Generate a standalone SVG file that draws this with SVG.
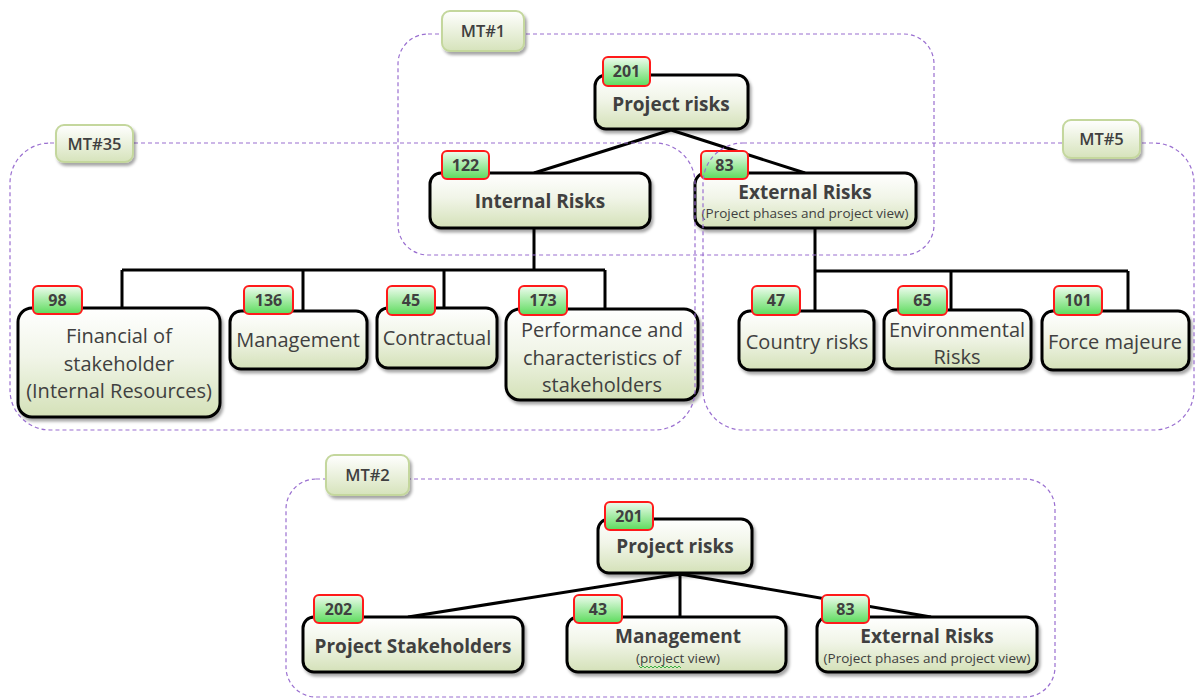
<svg xmlns="http://www.w3.org/2000/svg" width="1195" height="698" viewBox="0 0 1195 698">
<defs>
<linearGradient id="gNode" x1="0" y1="0" x2="0" y2="1">
<stop offset="0" stop-color="#ffffff"/>
<stop offset="0.45" stop-color="#f1f5e8"/>
<stop offset="1" stop-color="#d4e1b8"/>
</linearGradient>
<linearGradient id="gBadge" x1="0" y1="0" x2="0" y2="1">
<stop offset="0" stop-color="#f0fcf0"/>
<stop offset="1" stop-color="#5cdb5c"/>
</linearGradient>
<linearGradient id="gTag" x1="0" y1="0" x2="0" y2="1">
<stop offset="0" stop-color="#ffffff"/>
<stop offset="1" stop-color="#d6e3bb"/>
</linearGradient>
<filter id="sh" x="-10%" y="-10%" width="130%" height="140%">
<feDropShadow dx="2" dy="3" stdDeviation="1.8" flood-color="#000" flood-opacity="0.35"/>
</filter>
</defs>
<style>
.box{fill:url(#gNode);stroke:#000;stroke-width:3;filter:url(#sh)}
.badge{fill:url(#gBadge);stroke:#ff1a1a;stroke-width:2}
.tag{fill:url(#gTag);stroke:#c4d79d;stroke-width:2;filter:url(#sh)}
.cont{fill:none;stroke:#9a6fd0;stroke-width:1.2;stroke-dasharray:4 3}
.ln{fill:none;stroke:#000;stroke-width:3}
text{font-family:"Open Sans","Noto Sans","DejaVu Sans",sans-serif;fill:#404040;text-anchor:middle}
.b{font-weight:700;font-size:19px}
.r{font-size:20px}
.s{font-size:13.5px}
.n{font-weight:700;font-size:16px}
.t{font-weight:600;font-size:16.5px}
.sq{fill:none;stroke:#3cb043;stroke-width:1}
</style>

<g id="connectors">
<path class="ln" d="M671,130 L534,173 M671,130 L805,173"/>
<path class="ln" d="M534,228 V270 M122,270 H605 M122,270 V308 M303,270 V311 M444,270 V309 M605,270 V309"/>
<path class="ln" d="M815,228 V271 M815,271 H1128 M815,271 V311 M951,271 V310 M1128,271 V311"/>
<path class="ln" d="M680,574 L408,617 M680,574 V617 M680,574 L931,617"/>
</g>

<g id="n201a">
<rect class="box" x="595" y="75" width="153" height="54" rx="11"/>
<rect class="badge" x="603" y="57" width="47" height="29" rx="5"/>
<text class="n" x="626.5" y="77">201</text>
<text class="b" x="671" y="111">Project risks</text>
</g>
<g id="n122">
<rect class="box" x="430" y="173" width="220" height="55" rx="11"/>
<rect class="badge" x="442" y="151" width="47" height="28" rx="5"/>
<text class="n" x="465.5" y="171">122</text>
<text class="b" x="540" y="208">Internal Risks</text>
</g>
<g id="n83a">
<rect class="box" x="695" y="173" width="221" height="55" rx="11"/>
<rect class="badge" x="701" y="151" width="47" height="28" rx="5"/>
<text class="n" x="724.5" y="171">83</text>
<text class="b" x="805" y="199">External Risks</text>
<text class="s" x="805" y="218">(Project phases and project view)</text>
</g>
<g id="n98">
<rect class="box" x="18" y="308" width="202" height="109" rx="14"/>
<rect class="badge" x="33" y="286" width="49" height="28" rx="5"/>
<text class="n" x="57.5" y="306">98</text>
<text class="r" x="119" y="343">Financial of</text>
<text class="r" x="119" y="371">stakeholder</text>
<text class="r" x="119" y="398">(Internal Resources)</text>
</g>
<g id="n136">
<rect class="box" x="230" y="311" width="137" height="58" rx="11"/>
<rect class="badge" x="244" y="286" width="49" height="28" rx="5"/>
<text class="n" x="268.5" y="306">136</text>
<text class="r" x="298" y="347">Management</text>
</g>
<g id="n45">
<rect class="box" x="377" y="308" width="120" height="60" rx="11"/>
<rect class="badge" x="387" y="286" width="48" height="29" rx="5"/>
<text class="n" x="411" y="306">45</text>
<text class="r" x="437" y="345">Contractual</text>
</g>
<g id="n173">
<rect class="box" x="506" y="309" width="192" height="91" rx="14"/>
<rect class="badge" x="519" y="286" width="48" height="29" rx="5"/>
<text class="n" x="543" y="306">173</text>
<text class="r" x="602" y="337">Performance and</text>
<text class="r" x="602" y="365">characteristics of</text>
<text class="r" x="602" y="392">stakeholders</text>
</g>
<g id="n47">
<rect class="box" x="739" y="311" width="135" height="59" rx="11"/>
<rect class="badge" x="752" y="286" width="48" height="29" rx="5"/>
<text class="n" x="776" y="306">47</text>
<text class="r" x="807" y="349">Country risks</text>
</g>
<g id="n65">
<rect class="box" x="884" y="310" width="147" height="59" rx="11"/>
<rect class="badge" x="898" y="286" width="49" height="29" rx="5"/>
<text class="n" x="922.5" y="306">65</text>
<text class="r" x="957" y="337">Environmental</text>
<text class="r" x="957" y="364">Risks</text>
</g>
<g id="n101">
<rect class="box" x="1042" y="311" width="147" height="59" rx="11"/>
<rect class="badge" x="1054" y="286" width="48" height="29" rx="5"/>
<text class="n" x="1078" y="306">101</text>
<text class="r" x="1115" y="349">Force majeure</text>
</g>

<g id="n201b">
<rect class="box" x="598" y="519" width="154" height="54" rx="11"/>
<rect class="badge" x="605" y="502" width="48" height="28" rx="5"/>
<text class="n" x="629" y="522">201</text>
<text class="b" x="675" y="553">Project risks</text>
</g>
<g id="n202">
<rect class="box" x="303" y="617" width="220" height="55" rx="11"/>
<rect class="badge" x="314" y="595" width="49" height="28" rx="5"/>
<text class="n" x="338.5" y="615">202</text>
<text class="b" x="413" y="653">Project Stakeholders</text>
</g>
<g id="n43">
<rect class="box" x="567" y="617" width="219" height="55" rx="11"/>
<rect class="badge" x="574" y="595" width="48" height="28" rx="5"/>
<text class="n" x="598" y="615">43</text>
<text class="b" x="678" y="643">Management</text>
<text class="s" x="678" y="663">(project view)</text>
<path class="sq" d="M639,666 l2,2 l2,-2 l2,2 l2,-2 l2,2 l2,-2 l2,2 l2,-2 l2,2 l2,-2 l2,2 l2,-2 l2,2 l2,-2 l2,2 l2,-2 l2,2 l2,-2 l2,2 l2,-2 l2,2"/>
</g>
<g id="n83b">
<rect class="box" x="817" y="617" width="220" height="55" rx="11"/>
<rect class="badge" x="822" y="595" width="47" height="28" rx="5"/>
<text class="n" x="845.5" y="615">83</text>
<text class="b" x="927" y="643">External Risks</text>
<text class="s" x="927" y="663">(Project phases and project view)</text>
</g>

<g id="mt1">
<rect class="cont" x="398" y="34" width="536" height="221" rx="30"/>
<rect class="tag" x="442" y="11" width="82" height="40" rx="8"/>
<text class="t" x="483" y="37">MT#1</text>
</g>
<g id="mt35">
<rect class="cont" x="10" y="143" width="685" height="287" rx="40"/>
<rect class="tag" x="56" y="125" width="77" height="37" rx="8"/>
<text class="t" x="94.5" y="149.5">MT#35</text>
</g>
<g id="mt5">
<rect class="cont" x="703" y="143" width="491" height="287" rx="40"/>
<rect class="tag" x="1063" y="120" width="77" height="38" rx="8"/>
<text class="t" x="1101.5" y="145">MT#5</text>
</g>
<g id="mt2">
<rect class="cont" x="286" y="479" width="769" height="218" rx="30"/>
<rect class="tag" x="326" y="455" width="83" height="40" rx="8"/>
<text class="t" x="367.5" y="481">MT#2</text>
</g>
</svg>
